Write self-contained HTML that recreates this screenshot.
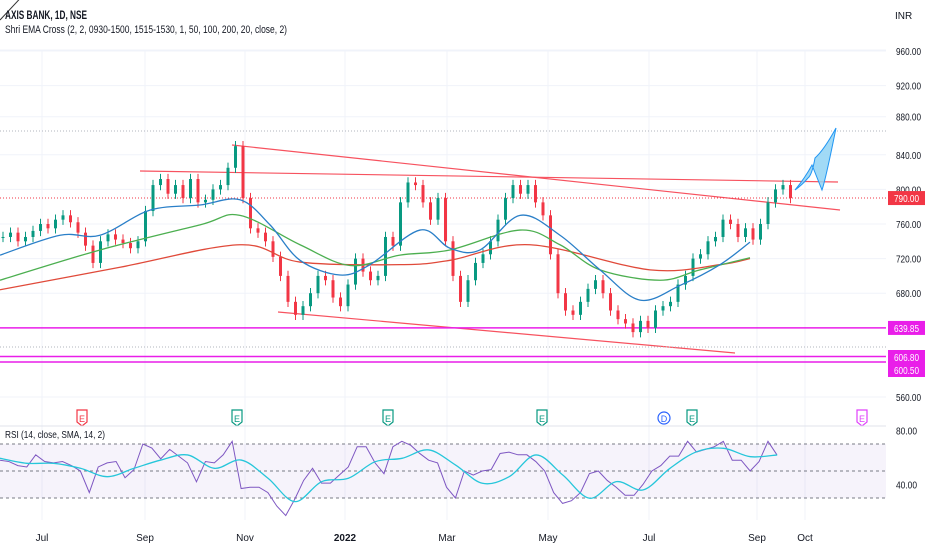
<!DOCTYPE html>
<html><head><meta charset="utf-8">
<style>
body{margin:0;background:#fff;}
svg{display:block;font-family:"Liberation Sans",sans-serif;}
</style></head>
<body>
<svg id="chart" width="932" height="550" viewBox="0 0 932 550" xmlns="http://www.w3.org/2000/svg">
<rect width="932" height="550" fill="#ffffff"/>
<g id="grid"></g>
<g id="bands"></g>
<g id="draw"></g>
<g id="candles"></g>
<g id="emas"></g>
<g id="rsi"></g>
<g id="axis"></g>
<g id="xaxis"></g>
<g id="events"></g>
<line x1="0" y1="50" x2="886" y2="50" stroke="#f0f3fa"/>
<line x1="0" y1="426" x2="886" y2="426" stroke="#e0e3eb"/>
<line x1="0" y1="20" x2="28" y2="-10" stroke="#333" stroke-width="1"/>
<text x="5" y="19" font-size="12" font-weight="bold" fill="#131722" textLength="82" lengthAdjust="spacingAndGlyphs">AXIS BANK, 1D, NSE</text>
<text x="5" y="33" font-size="11" fill="#131722" textLength="282" lengthAdjust="spacingAndGlyphs">Shri EMA Cross (2, 2, 0930-1500, 1515-1530, 1, 50, 100, 200, 20, close, 2)</text>
<text x="895" y="19" font-size="10" fill="#131722">INR</text>
<text x="5" y="438" font-size="10" fill="#131722" textLength="100" lengthAdjust="spacingAndGlyphs">RSI (14, close, SMA, 14, 2)</text>
</svg>
<script>
const closes=[745,750,740,745,752,760,755,765,770,762,750,735,715,740,748,742,738,732,740,775,805,812,795,805,790,812,785,788,800,805,825,850,790,755,750,740,722,700,670,655,665,680,700,695,675,665,690,720,705,695,700,745,735,785,808,805,785,765,790,740,700,670,695,715,725,740,765,790,805,795,805,785,770,725,680,660,655,670,685,695,680,660,650,645,635,648,640,660,665,670,690,700,720,725,740,745,765,760,745,755,742,760,785,800,805,790];
const ema50=[724,747,747,776,782,788,759,718,701,713,753,732,730,770,747,707,672,689,713,739];
const ema50X=[0,60,100,150,200,240,270,300,340,370,420,450,480,520,560,600,640,680,720,750];
const ema100=[695,730,759,770,736,712,724,730,753,736,707,695,707,721];
const ema100X=[0,100,200,240,300,350,400,450,520,560,600,660,700,750];
const ema200=[684,710,736,716,713,718,736,707,713,720];
const ema200X=[0,120,240,300,400,450,530,650,720,750];
const rsiVals=[58,57,54,53,62,57,56,57,54,50,34,53,56,57,45,51,70,67,59,66,61,56,42,57,56,62,72,37,38,38,34,24,17,29,43,52,41,41,47,53,68,68,56,48,68,72,69,63,58,56,38,30,50,47,50,51,63,64,62,62,57,50,34,26,28,34,48,50,43,38,32,32,40,50,54,61,61,72,64,66,68,72,58,58,50,57,72,62];
const rsiSma=[59.4,55.7,55.7,52,45.8,52,58.1,61.9,52,58.1,44.6,27.3,42.1,44.6,56.9,59.4,65.6,54.4,40.9,45.8,61.9,47,29.8,42.1,36,52,64.3,66.8,60.6,61.9];
const priceTicks=["960.00","920.00","880.00","840.00","800.00","760.00","720.00","680.00","560.00"];
const priceTickVals=[960,920,884,840,800,760,720,680,560];
const months=["Jul","Sep","Nov","2022","Mar","May","Jul","Sep","Oct"];
const monthX=[42,145,245,345,447,548,649,757,805];
const tags=[{v:790,t:"790.00",c:"#f23645"},{v:639.85,t:"639.85",c:"#e91ee9"},{v:606.8,t:"606.80",c:"#e91ee9"},{v:600.5,t:"600.50",c:"#e91ee9"}];
const events=[{x:82,t:"E",c:"#f23645"},{x:237,t:"E",c:"#089981"},{x:388,t:"E",c:"#089981"},{x:542,t:"E",c:"#089981"},{x:664,t:"D",c:"#2962ff"},{x:692,t:"E",c:"#089981"},{x:862,t:"E",c:"#e040fb"}];

const NS="http://www.w3.org/2000/svg";
const py=p=>51+(960-p)*0.865;
const ry=r=>471-(r-50)*1.35;
function mk(tag,attrs,parent){const e=document.createElementNS(NS,tag);for(const k in attrs)e.setAttribute(k,attrs[k]);document.getElementById(parent).appendChild(e);return e;}
function smooth(pts){let d='M'+pts[0][0]+','+pts[0][1];for(let i=0;i<pts.length-1;i++){const p0=pts[i-1]||pts[i],p1=pts[i],p2=pts[i+1],p3=pts[i+2]||p2;
d+=' C'+(p1[0]+(p2[0]-p0[0])/6)+','+(p1[1]+(p2[1]-p0[1])/6)+' '+(p2[0]-(p3[0]-p1[0])/6)+','+(p2[1]-(p3[1]-p1[1])/6)+' '+p2[0]+','+p2[1];}return d;}

priceTickVals.forEach((v,i)=>{const l=mk('line',{x1:0,x2:886,y1:py(v),y2:py(v),stroke:'#f0f3fa'},'grid');

});
monthX.forEach(x=>{const l=mk('line',{x1:x,x2:x,y1:50,y2:520,stroke:'#f0f3fa'},'grid');

});

const b=mk('rect',{x:0,y:ry(70),width:886,height:ry(30)-ry(70),fill:'#7e57c2','fill-opacity':0.07},'bands');


[70,50,30].forEach(v=>{const l=mk('line',{x1:0,x2:886,y1:ry(v),y2:ry(v),stroke:'#787b86','stroke-dasharray':'3,3'},'bands');

});

const dl=[[232,145,840,210,'#f7525f'],[140,171,838,182,'#f7525f'],[278,312,735,353,'#f7525f']];
dl.forEach(d=>{const l=mk('line',{x1:d[0],y1:d[1],x2:d[2],y2:d[3],stroke:d[4],'stroke-width':1.2},'draw');

});
[639.85,606.8,600.5].forEach(v=>{const l=mk('line',{x1:0,x2:886,y1:py(v),y2:py(v),stroke:'#e91ee9','stroke-width':1.5},'draw');

});
[[131,'#b2b5be'],[347,'#b2b5be'],[py(790),'#f23645']].forEach(d=>{const l=mk('line',{x1:0,x2:886,y1:d[0],y2:d[0],stroke:d[1],'stroke-dasharray':'1,2'},'draw');

});
const proj=mk('path',{d:'M795,190 Q805,178 812,165 Q818,180 822,190 Q826,178 836,128 Q824,150 815,158 Q812,175 808,178 Q802,185 795,190 Z',fill:'#90d4f5','fill-opacity':0.85,stroke:'#2196f3','stroke-width':1},'draw');



closes.forEach((c,i)=>{const o=i?closes[i-1]:c;const x=i*7.5+3;const up=c>=o;const col=up?'#089981':'#f23645';
const hi=Math.max(o,c)+6,lo=Math.min(o,c)-6;
const w=mk('line',{x1:x,x2:x,y1:py(hi),y2:py(lo),stroke:col},'candles');


const r=mk('rect',{x:x-1.5,y:py(Math.max(o,c)),width:3,height:Math.max(1,Math.abs(py(o)-py(c))),fill:col},'candles');

});

function curve(xs,vs,fy,col,parent,name,w){const p=mk('path',{d:smooth(xs.map((x,i)=>[x,fy(vs[i])])),fill:'none',stroke:col,'stroke-width':w||1.3},parent);

}
function poly(xs,vs,fy,col,parent,name,w){const p=mk('polyline',{points:xs.map((x,i)=>x+','+fy(vs[i])).join(' '),fill:'none',stroke:col,'stroke-width':w||1.3},parent);

}
curve(ema200X,ema200,py,'#e04a3a','emas','ema-200');
curve(ema100X,ema100,py,'#4caf50','emas','ema-100');
curve(ema50X,ema50,py,'#2a7fc8','emas','ema-50');

poly(rsiVals.map((v,i)=>i*8.93),rsiVals,ry,'#7e57c2','rsi','rsi-line',1);
curve(rsiSma.map((v,i)=>i*26.8),rsiSma,ry,'#26c6da','rsi','rsi-sma',1.3);

priceTicks.forEach((t,i)=>{const e=mk('text',{x:896,y:py(priceTickVals[i])+4,'font-size':10,fill:'#131722',textLength:25,lengthAdjust:'spacingAndGlyphs'},'axis');e.textContent=t;

});
[["80.00",ry(80)],["40.00",ry(40)]].forEach(d=>{const e=mk('text',{x:896,y:d[1]+4,'font-size':10,fill:'#131722',textLength:21,lengthAdjust:'spacingAndGlyphs'},'axis');e.textContent=d[0];

});
tags.forEach(t=>{let y=py(t.v);if(t.v===600.5)y=370;if(t.v===606.8)y=357;
const r=mk('rect',{x:888,y:y-7,width:37,height:14,fill:t.c},'axis');


const e=mk('text',{x:894,y:y+4,'font-size':10,fill:'#fff',textLength:25,lengthAdjust:'spacingAndGlyphs'},'axis');e.textContent=t.t;

});
months.forEach((m,i)=>{const e=mk('text',{x:monthX[i],y:541,'font-size':10,fill:'#131722','text-anchor':'middle','font-weight':m==='2022'?'bold':'normal'},'xaxis');e.textContent=m;

});
events.forEach(ev=>{let s;
if(ev.t==='D'){s=mk('circle',{cx:ev.x,cy:418,r:6,fill:'#fff',stroke:ev.c,'stroke-width':1.2},'events');}
else{s=mk('path',{d:`M${ev.x-5},410 h10 v12 l-5,4 l-5,-4 Z`,fill:'#fff',stroke:ev.c,'stroke-width':1.2},'events');}


const e=mk('text',{x:ev.x,y:422,'font-size':9,fill:ev.c,'text-anchor':'middle'},'events');e.textContent=ev.t;

});
</script>
</body></html>
